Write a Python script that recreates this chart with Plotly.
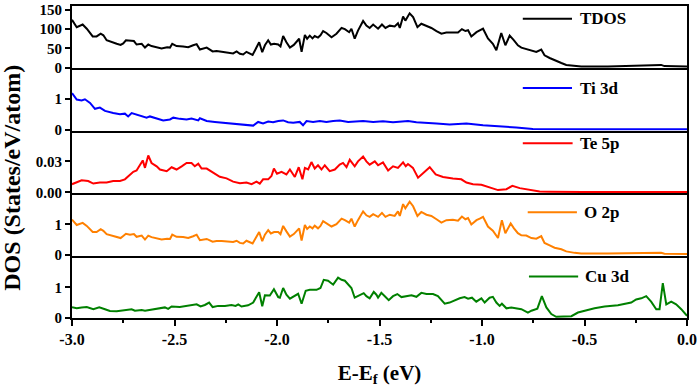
import plotly.graph_objects as go
from plotly.subplots import make_subplots

# ---------------- data ----------------
tdos_e = [-3.000, -2.977, -2.948, -2.928, -2.899, -2.880, -2.860, -2.847, -2.831, -2.807,
          -2.782, -2.763, -2.750, -2.737, -2.717, -2.698, -2.685, -2.660, -2.644, -2.628,
          -2.612, -2.587, -2.563, -2.536, -2.522, -2.511, -2.490, -2.458, -2.433, -2.409,
          -2.392, -2.376, -2.343, -2.314, -2.295, -2.270, -2.246, -2.214, -2.197, -2.181,
          -2.165, -2.149, -2.119, -2.100, -2.087, -2.072, -2.059, -2.043, -2.030, -2.014,
          -1.994, -1.983, -1.970, -1.954, -1.937, -1.918, -1.892, -1.880, -1.864, -1.853,
          -1.840, -1.827, -1.816, -1.800, -1.788, -1.775, -1.759, -1.734, -1.710, -1.685,
          -1.669, -1.648, -1.637, -1.621, -1.605, -1.580, -1.564, -1.548, -1.531, -1.507,
          -1.488, -1.471, -1.450, -1.426, -1.410, -1.401, -1.385, -1.374, -1.353, -1.336,
          -1.315, -1.296, -1.271, -1.247, -1.222, -1.198, -1.174, -1.142, -1.117, -1.098,
          -1.081, -1.068, -1.052, -1.027, -1.011, -0.995, -0.971, -0.947, -0.930, -0.919,
          -0.906, -0.886, -0.865, -0.844, -0.825, -0.808, -0.784, -0.759, -0.735, -0.711,
          -0.695, -0.670, -0.646, -0.613, -0.589, -0.548, -0.516, -0.386, -0.223, -0.126,
          -0.110, 0.000]
tdos = [124, 105, 112, 101, 81, 81, 88, 84, 71, 66,
        62, 59, 63, 71, 69, 69, 60, 62, 52, 60,
        56, 53, 50, 53, 52, 62, 56, 55, 53, 58,
        61, 47, 52, 42, 43, 41, 39, 37, 42, 36,
        34, 41, 33, 55, 66, 40, 58, 71, 60, 62,
        60, 55, 82, 66, 52, 59, 75, 41, 85, 75,
        83, 76, 82, 78, 84, 95, 90, 79, 88, 103,
        100, 92, 101, 75, 96, 121, 109, 103, 112, 101,
        112, 103, 109, 107, 115, 103, 133, 122, 141, 131,
        105, 114, 109, 103, 95, 88, 91, 92, 91, 100,
        95, 97, 81, 92, 97, 101, 76, 62, 45, 69,
        90, 58, 83, 71, 58, 52, 49, 45, 41, 47,
        32, 25, 19, 12, 7, 5, 3, 3, 5, 7,
        4, 3]

ti_e = [-3.000, -2.977, -2.953, -2.937, -2.912, -2.888, -2.864, -2.839, -2.799, -2.766,
        -2.742, -2.726, -2.709, -2.685, -2.660, -2.636, -2.620, -2.587, -2.555, -2.522,
        -2.506, -2.474, -2.441, -2.417, -2.384, -2.376, -2.343, -2.303, -2.270, -2.214,
        -2.181, -2.149, -2.116, -2.092, -2.068, -2.043, -2.019, -1.994, -1.970, -1.946,
        -1.921, -1.889, -1.873, -1.856, -1.824, -1.791, -1.759, -1.726, -1.694, -1.653,
        -1.580, -1.531, -1.483, -1.434, -1.385, -1.361, -1.320, -1.271, -1.222, -1.158,
        -1.076, -0.995, -0.914, -0.833, -0.752, -0.670, -0.508, 0.000]
ti3d = [1.19, 0.98, 0.95, 0.99, 0.87, 0.68, 0.72, 0.61, 0.54, 0.50,
        0.52, 0.43, 0.54, 0.49, 0.43, 0.39, 0.43, 0.36, 0.30, 0.33,
        0.39, 0.35, 0.33, 0.36, 0.30, 0.37, 0.28, 0.25, 0.23, 0.20,
        0.19, 0.15, 0.13, 0.25, 0.20, 0.26, 0.24, 0.28, 0.30, 0.24,
        0.22, 0.25, 0.14, 0.28, 0.25, 0.28, 0.25, 0.28, 0.30, 0.25,
        0.28, 0.25, 0.27, 0.24, 0.27, 0.28, 0.24, 0.23, 0.20, 0.17,
        0.20, 0.14, 0.11, 0.07, 0.02, 0.01, 0.01, 0.01]

te_e = [-3.000, -2.977, -2.953, -2.921, -2.896, -2.864, -2.831, -2.799, -2.766, -2.742,
        -2.717, -2.701, -2.685, -2.669, -2.655, -2.644, -2.628, -2.612, -2.587, -2.571,
        -2.538, -2.514, -2.490, -2.465, -2.441, -2.417, -2.401, -2.384, -2.368, -2.343,
        -2.311, -2.279, -2.246, -2.214, -2.181, -2.149, -2.124, -2.100, -2.084, -2.068,
        -2.043, -2.027, -2.015, -2.000, -1.978, -1.954, -1.937, -1.913, -1.894, -1.876,
        -1.864, -1.848, -1.832, -1.816, -1.800, -1.783, -1.767, -1.743, -1.718, -1.694,
        -1.678, -1.661, -1.645, -1.621, -1.605, -1.580, -1.564, -1.548, -1.523, -1.507,
        -1.483, -1.458, -1.434, -1.410, -1.385, -1.372, -1.361, -1.337, -1.312, -1.284,
        -1.255, -1.226, -1.190, -1.142, -1.101, -1.076, -1.044, -1.003, -0.963, -0.922,
        -0.881, -0.852, -0.816, -0.768, -0.719, -0.670, -0.508, 0.000]
te5p = [0.0079, 0.0095, 0.0116, 0.0110, 0.0085, 0.0095, 0.0095, 0.0110, 0.0110, 0.0126,
        0.0173, 0.0199, 0.0211, 0.0268, 0.0309, 0.0237, 0.0357, 0.0284, 0.0252, 0.0221,
        0.0205, 0.0243, 0.0221, 0.0252, 0.0284, 0.0284, 0.0252, 0.0277, 0.0230, 0.0230,
        0.0189, 0.0151, 0.0135, 0.0104, 0.0088, 0.0095, 0.0079, 0.0104, 0.0085, 0.0126,
        0.0126, 0.0158, 0.0230, 0.0180, 0.0199, 0.0173, 0.0221, 0.0149, 0.0243, 0.0126,
        0.0237, 0.0221, 0.0293, 0.0230, 0.0262, 0.0221, 0.0262, 0.0205, 0.0221, 0.0268,
        0.0284, 0.0243, 0.0315, 0.0252, 0.0300, 0.0347, 0.0300, 0.0268, 0.0300, 0.0262,
        0.0290, 0.0211, 0.0252, 0.0237, 0.0290, 0.0252, 0.0274, 0.0237, 0.0142, 0.0189,
        0.0243, 0.0173, 0.0149, 0.0135, 0.0126, 0.0095, 0.0079, 0.0073, 0.0047, 0.0022,
        0.0031, 0.0063, 0.0041, 0.0022, 0.0009, 0.0006, 0.0003, 0.0003]

o_e = [-3.000, -2.977, -2.948, -2.928, -2.899, -2.880, -2.860, -2.847, -2.831, -2.807,
       -2.782, -2.763, -2.750, -2.737, -2.717, -2.698, -2.685, -2.660, -2.644, -2.628,
       -2.612, -2.587, -2.563, -2.536, -2.522, -2.511, -2.490, -2.458, -2.433, -2.409,
       -2.392, -2.376, -2.343, -2.314, -2.295, -2.270, -2.246, -2.214, -2.197, -2.181,
       -2.165, -2.149, -2.119, -2.100, -2.087, -2.072, -2.059, -2.043, -2.030, -2.014,
       -1.994, -1.983, -1.970, -1.954, -1.937, -1.918, -1.892, -1.880, -1.864, -1.853,
       -1.840, -1.827, -1.816, -1.800, -1.788, -1.775, -1.759, -1.734, -1.710, -1.685,
       -1.669, -1.648, -1.637, -1.621, -1.605, -1.580, -1.564, -1.548, -1.531, -1.507,
       -1.488, -1.471, -1.450, -1.426, -1.410, -1.401, -1.385, -1.374, -1.353, -1.336,
       -1.315, -1.296, -1.271, -1.247, -1.222, -1.198, -1.174, -1.142, -1.117, -1.098,
       -1.081, -1.068, -1.052, -1.027, -1.011, -0.995, -0.971, -0.947, -0.922, -0.903,
       -0.886, -0.860, -0.844, -0.825, -0.808, -0.784, -0.759, -0.735, -0.711, -0.695,
       -0.670, -0.646, -0.613, -0.589, -0.548, -0.516, -0.386, -0.223, -0.126, -0.110,
       0.000]
o2p = [1.16, 0.98, 1.05, 0.95, 0.75, 0.75, 0.84, 0.79, 0.68, 0.64,
       0.59, 0.55, 0.62, 0.69, 0.66, 0.68, 0.59, 0.63, 0.50, 0.63,
       0.58, 0.53, 0.50, 0.53, 0.52, 0.66, 0.59, 0.58, 0.55, 0.61,
       0.66, 0.48, 0.52, 0.43, 0.45, 0.45, 0.43, 0.42, 0.46, 0.39,
       0.37, 0.46, 0.37, 0.61, 0.75, 0.45, 0.66, 0.81, 0.70, 0.75,
       0.75, 0.68, 0.95, 0.77, 0.60, 0.68, 0.87, 0.47, 0.98, 0.85,
       0.93, 0.87, 0.96, 0.87, 0.95, 1.11, 1.03, 0.93, 1.01, 1.19,
       1.14, 1.06, 1.19, 0.93, 1.14, 1.43, 1.30, 1.25, 1.34, 1.25,
       1.38, 1.25, 1.32, 1.28, 1.43, 1.28, 1.67, 1.53, 1.75, 1.60,
       1.28, 1.41, 1.32, 1.28, 1.17, 1.06, 1.14, 1.15, 1.12, 1.26,
       1.17, 1.21, 1.00, 1.14, 1.19, 1.25, 0.93, 0.79, 0.55, 1.14,
       0.71, 1.03, 0.87, 0.71, 0.64, 0.63, 0.55, 0.53, 0.61, 0.39,
       0.31, 0.23, 0.18, 0.11, 0.06, 0.04, 0.04, 0.04, 0.06, 0.03,
       0.02]

cu_e = [-3.000, -2.977, -2.953, -2.928, -2.896, -2.867, -2.839, -2.815, -2.782, -2.750,
        -2.709, -2.693, -2.660, -2.644, -2.612, -2.579, -2.547, -2.531, -2.514, -2.474,
        -2.441, -2.417, -2.392, -2.373, -2.352, -2.331, -2.314, -2.287, -2.254, -2.222,
        -2.202, -2.189, -2.173, -2.141, -2.116, -2.103, -2.087, -2.072, -2.059, -2.035,
        -2.015, -1.994, -1.986, -1.970, -1.954, -1.937, -1.913, -1.897, -1.880, -1.860,
        -1.840, -1.807, -1.788, -1.772, -1.751, -1.726, -1.702, -1.685, -1.669, -1.637,
        -1.621, -1.596, -1.577, -1.564, -1.548, -1.528, -1.515, -1.507, -1.491, -1.474,
        -1.455, -1.434, -1.413, -1.393, -1.369, -1.344, -1.320, -1.296, -1.271, -1.239,
        -1.215, -1.182, -1.158, -1.133, -1.109, -1.085, -1.068, -1.049, -1.028, -1.003,
        -0.987, -0.963, -0.947, -0.930, -0.914, -0.903, -0.881, -0.857, -0.833, -0.808,
        -0.776, -0.759, -0.730, -0.708, -0.686, -0.662, -0.638, -0.597, -0.564, -0.532,
        -0.500, -0.451, -0.402, -0.337, -0.272, -0.248, -0.223, -0.199, -0.175, -0.150,
        -0.134, -0.118, -0.101, -0.077, -0.053, -0.028, 0.000]
cu3d = [0.35, 0.31, 0.34, 0.35, 0.28, 0.34, 0.28, 0.22, 0.21, 0.25,
        0.28, 0.23, 0.25, 0.23, 0.27, 0.29, 0.34, 0.29, 0.37, 0.35,
        0.39, 0.42, 0.44, 0.37, 0.42, 0.50, 0.35, 0.39, 0.39, 0.42,
        0.39, 0.44, 0.37, 0.41, 0.50, 0.66, 0.84, 0.38, 0.74, 0.73,
        0.94, 0.68, 0.66, 0.98, 0.76, 0.63, 0.71, 0.79, 0.46, 0.89,
        0.92, 0.92, 0.98, 1.25, 1.22, 1.09, 1.32, 1.25, 1.22, 0.98,
        0.66, 0.74, 0.81, 0.71, 0.64, 0.85, 0.76, 0.66, 0.82, 0.71,
        0.58, 0.71, 0.78, 0.68, 0.71, 0.74, 0.69, 0.82, 0.78, 0.78,
        0.71, 0.46, 0.50, 0.57, 0.64, 0.68, 0.63, 0.66, 0.53, 0.64,
        0.50, 0.66, 0.69, 0.50, 0.39, 0.46, 0.31, 0.34, 0.31, 0.28,
        0.17, 0.23, 0.30, 0.71, 0.34, 0.12, 0.03, 0.03, 0.05, 0.17,
        0.23, 0.31, 0.37, 0.41, 0.50, 0.60, 0.64, 0.71, 0.53, 0.28,
        0.28, 1.14, 0.44, 0.53, 0.44, 0.28, 0.06]

names = ["TDOS", "Ti 3d", "Te 5p", "O 2p", "Cu 3d"]
colors = ["#000000", "#0000ff", "#ff0000", "#ff8000", "#008000"]
series = [(tdos_e, tdos), (ti_e, ti3d), (te_e, te5p), (o_e, o2p), (cu_e, cu3d)]
yranges = [[-2, 160], [-0.04, 2.0], [-0.0008, 0.0595], [-0.03, 2.03], [-0.01, 2.05]]
ytickvals = [[0, 50, 100, 150], [0, 1], [0.00, 0.03], [0, 1], [0, 1]]
yticktext = [["0", "50", "100", "150"], ["0", "1"], ["0.00", "0.03"], ["0", "1"], ["0", "1"]]
xticks = [-3.0, -2.5, -2.0, -1.5, -1.0, -0.5, 0.0]

for e, v in series:
    assert len(e) == len(v), (len(e), len(v))

FONT = "Liberation Serif"

fig = make_subplots(rows=5, cols=1, shared_xaxes=True, vertical_spacing=0)

for i, ((e, v), name, col) in enumerate(zip(series, names, colors)):
    fig.add_trace(go.Scatter(x=e, y=v, mode="lines", name=name,
                             line=dict(color=col, width=2), showlegend=False),
                  row=i + 1, col=1)
    fig.update_yaxes(range=yranges[i], tickvals=ytickvals[i], ticktext=yticktext[i],
                     showline=True, mirror=True, linecolor="black", linewidth=2,
                     ticks="outside", ticklen=5, tickwidth=2, tickcolor="black",
                     showgrid=False, zeroline=False,
                     tickfont=dict(family=FONT, size=15, color="black", weight="bold"),
                     row=i + 1, col=1)
    fig.update_xaxes(range=[-3.0, 0.0], showline=True, mirror=(i == 0), linecolor="black",
                     linewidth=2, showgrid=False, zeroline=False, row=i + 1, col=1)

fig.update_xaxes(ticks="outside", ticklen=6, tickwidth=2, tickcolor="black",
                 tickvals=xticks, ticktext=[f"{t:.1f}" for t in xticks],
                 minor=dict(ticks="outside", ticklen=3, tickwidth=2, tickcolor="black",
                            dtick=0.25, tick0=-3.0, showgrid=False),
                 tickfont=dict(family=FONT, size=16, color="black", weight="bold"),
                 title=dict(text="E-E<sub>f</sub> (eV)", standoff=18,
                            font=dict(family=FONT, size=21, color="black", weight="bold")),
                 row=5, col=1)

# legend entries (line sample + label) in each panel
leg_y = [0.959, 0.737, 0.560, 0.339, 0.133]
leg_x0 = [0.733, 0.733, 0.733, 0.741, 0.743]
leg_x1 = [0.813, 0.813, 0.814, 0.821, 0.823]
leg_tx = [0.823, 0.822, 0.823, 0.830, 0.831]
for name, col, ly, x0, x1, tx in zip(names, colors, leg_y, leg_x0, leg_x1, leg_tx):
    fig.add_shape(type="line", xref="paper", yref="paper", x0=x0, x1=x1, y0=ly, y1=ly,
                  line=dict(color=col, width=2))
    fig.add_annotation(text=name, xref="paper", yref="paper", x=tx, y=ly,
                       xanchor="left", yanchor="middle", showarrow=False,
                       font=dict(family=FONT, size=17, color="black", weight="bold"))

fig.add_annotation(text="DOS (States/eV/atom)", xref="paper", yref="paper",
                   x=-0.099, y=0.45, textangle=-90, showarrow=False,
                   xanchor="center", yanchor="middle",
                   font=dict(family=FONT, size=24, color="black", weight="bold"))

fig.update_layout(width=699, height=387, margin=dict(l=72, r=12, t=2, b=69),
                  paper_bgcolor="white", plot_bgcolor="white",
                  font=dict(family=FONT, color="black"))

fig.write_html("out.html", config={"displayModeBar": False},
               post_script="document.body.style.margin='0';document.body.style.padding='0';")
